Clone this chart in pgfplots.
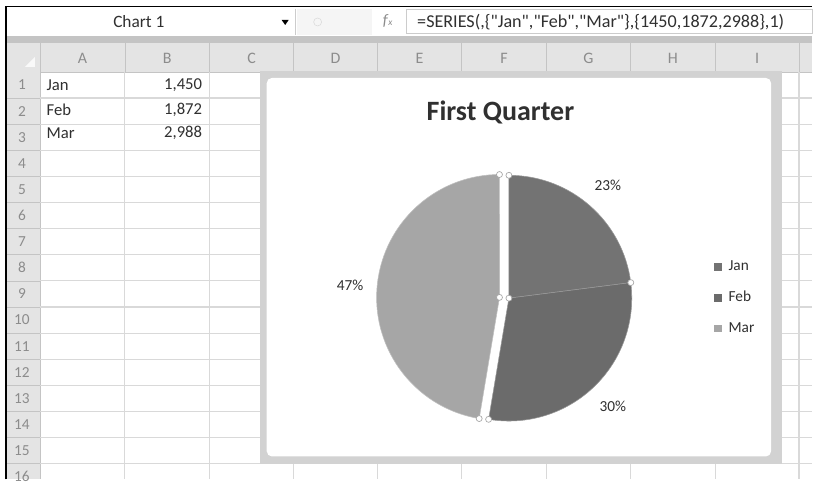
\documentclass[border=0pt]{standalone}
\usepackage{pgfplots}
\pgfplotsset{compat=1.18}
\usepackage{pgfplotstable}
\usepackage{fontspec}
\setmainfont{Carlito}

\definecolor{janc}{HTML}{737373}
\definecolor{febc}{HTML}{6B6B6B}
\definecolor{marc}{HTML}{A6A6A6}
\definecolor{gridc}{HTML}{D9D9D9}
\definecolor{headc}{HTML}{E4E4E4}
\definecolor{headline}{HTML}{C4C4C4}
\definecolor{bandc}{HTML}{D2D2D2}
\definecolor{txtc}{HTML}{303030}
\definecolor{faint}{HTML}{8C8C8C}

% first quarter sales
\pgfplotstableread{
month value
Jan 1450
Feb 1872
Mar 2988
}\sales
\pgfplotstablegetelem{0}{value}\of\sales \let\vJan\pgfplotsretval
\pgfplotstablegetelem{1}{value}\of\sales \let\vFeb\pgfplotsretval
\pgfplotstablegetelem{2}{value}\of\sales \let\vMar\pgfplotsretval

% slice angles, clockwise from 12 o'clock
\pgfmathsetmacro\total{\vJan+\vFeb+\vMar}
\pgfmathsetmacro\aA{90}
\pgfmathsetmacro\aB{\aA-360*(\vJan/\total)}
\pgfmathsetmacro\aC{\aB-360*(\vFeb/\total)}
\pgfmathsetmacro\aD{\aC-360*(\vMar/\total)}
\pgfmathsetmacro\mA{(\aA+\aB)/2}
\pgfmathsetmacro\mB{(\aB+\aC)/2}
\pgfmathsetmacro\mC{(\aC+\aD)/2}
\pgfmathtruncatemacro\pJan{round(100*(\vJan/\total))}
\pgfmathtruncatemacro\pFeb{round(100*(\vFeb/\total))}
\pgfmathtruncatemacro\pMar{round(100*(\vMar/\total))}
\def\R{92.25pt}

\tikzset{handle/.style={circle, draw=gray!70, fill=white, line width=0.5pt, inner sep=0pt, minimum size=4.5pt}}

\begin{document}
\begin{tikzpicture}
\begin{axis}[
    x=0.75pt, y=0.75pt, y dir=reverse,
    xmin=0, xmax=813, ymin=0, ymax=480,
    hide axis, clip=false,
    legend image code/.code={\fill[#1] (0pt,-2.6pt) rectangle (5.2pt,2.6pt);},
    legend style={at={(axis cs:715,259)}, anchor=north west, draw=none, fill=none,
      inner sep=0pt, row sep=11pt, text=txtc,
      font=\fontsize{11.5}{13}\selectfont,
      nodes={inner sep=1pt, text height=8pt, text depth=2pt},
      /tikz/every odd column/.append style={column sep=4pt}},
    legend cell align=left,
  ]
  % page
  \fill[white] (axis cs:0,0) rectangle (axis cs:813,480);

  % formula bar
  \draw[gray!40] (axis cs:296,9) -- (axis cs:296,35);
  \fill[gray!8] (axis cs:297,9) rectangle (axis cs:372,35);
  \draw[gray!30] (axis cs:318,22) circle[radius=3pt];
  \draw[gray!40] (axis cs:407,9) rectangle (axis cs:813,33);
  \node[font=\fontsize{13}{15}\selectfont, txtc] at (axis cs:139,22) {Chart 1};
  \fill[black] (axis cs:282,20) -- (axis cs:289,20) -- (axis cs:285.5,25) -- cycle;
  \node[font=\fontsize{12}{14}\selectfont, faint] at (axis cs:388,21) {\itshape f\kern0.5pt\scriptsize x};
  \node[anchor=west, font=\fontsize{13.6}{15}\selectfont\addfontfeatures{Ligatures=TeXOff}, txtc] at (axis cs:413,22)
    {=SERIES(,\{"Jan","Feb","Mar"\},\{1450,1872,2988\},1)};

  % column header row
  \fill[headline] (axis cs:6,36) rectangle (axis cs:813,43);
  \fill[headc] (axis cs:6,43) rectangle (axis cs:813,72);
  \fill[white!95!gray] (axis cs:25,67) -- (axis cs:35,67) -- (axis cs:35,57) -- cycle;
  \draw[headline] (axis cs:6,72) -- (axis cs:813,72);
  \pgfplotsinvokeforeach{40,125,210,294,378,462,547,631,716,800}{
    \draw[headline] (axis cs:#1,43) -- (axis cs:#1,72);
  }
  \begin{scope}[every node/.style={font=\fontsize{12}{14}\selectfont, faint}]
    \node at (axis cs:82.5,58) {A};
    \node at (axis cs:167.5,58) {B};
    \node at (axis cs:252,58) {C};
    \node at (axis cs:336,58) {D};
    \node at (axis cs:420,58) {E};
    \node at (axis cs:504.5,58) {F};
    \node at (axis cs:589,58) {G};
    \node at (axis cs:673.5,58) {H};
    \node at (axis cs:758,58) {I};
  \end{scope}

  % row header column and grid
  \fill[headc] (axis cs:6,72) rectangle (axis cs:40,480);
  \draw[headline] (axis cs:40,72) -- (axis cs:40,480);
  \pgfplotsinvokeforeach{125,210,294,378,462,547,631,716,800}{
    \draw[gridc, line width=0.9pt] (axis cs:#1,72) -- (axis cs:#1,480);
  }
  \pgfplotsinvokeforeach{1,...,15}{
    \draw[gridc, line width=0.9pt] (axis cs:40,{72+26.15*#1}) -- (axis cs:813,{72+26.15*#1});
    \draw[headline] (axis cs:6,{72+26.15*#1}) -- (axis cs:40,{72+26.15*#1});
  }
  \pgfplotsinvokeforeach{1,...,16}{
    \node[font=\fontsize{11.5}{13}\selectfont, faint] at (axis cs:22,{72+26.15*(#1-0.5)}) {#1};
  }

  % cells
  \begin{scope}[every node/.style={font=\fontsize{12.5}{14}\selectfont, txtc}]
    \node[anchor=west] at (axis cs:42,85) {Jan};
    \node[anchor=west] at (axis cs:42,110) {Feb};
    \node[anchor=west] at (axis cs:42,133) {Mar};
    \node[anchor=east] at (axis cs:207,85) {1,450};
    \node[anchor=east] at (axis cs:207,110) {1,872};
    \node[anchor=east] at (axis cs:207,133) {2,988};
  \end{scope}

  % outer frame of the screenshot
  \draw[black, line width=1.4pt] (axis cs:6,480) -- (axis cs:6,6.5) -- (axis cs:813,6.5);

  % chart object
  \fill[bandc] (axis cs:260,71) rectangle (axis cs:783,465);
  \fill[white, rounded corners=4pt] (axis cs:267,78) rectangle (axis cs:772,457);
  \node[anchor=base, font=\bfseries\fontsize{21}{25}\selectfont, txtc] at (axis cs:501,121) {First Quarter};

  % pie, Mar slice pulled out
  \path (axis cs:509.5,298.5) coordinate (cJF);
  \path (cJF) ++(\mC:7.1pt) coordinate (cM);
  \filldraw[janc, draw=gray!80, line width=0.4pt] (cJF) -- ++(\aA:\R) arc[start angle=\aA, end angle=\aB, radius=\R] -- cycle;
  \filldraw[febc, draw=gray!80, line width=0.4pt] (cJF) -- ++(\aB:\R) arc[start angle=\aB, end angle=\aC, radius=\R] -- cycle;
  \filldraw[marc, draw=gray!50, line width=0.4pt] (cM) -- ++(\aC:\R) arc[start angle=\aC, end angle=\aD, radius=\R] -- cycle;

  % data labels
  \begin{scope}[every node/.style={font=\fontsize{11.5}{13}\selectfont, txtc}]
    \path (cJF) ++(\mA:112.5pt) node {\pJan\%};
    \path (cJF) ++(\mB:112.5pt) node {\pFeb\%};
    \path (cM) ++(\mC:112.5pt) node {\pMar\%};
  \end{scope}

  % selection handles
  \path (cJF) node[handle] {};
  \path (cJF) ++(\aA:\R) node[handle] {};
  \path (cJF) ++(\aB:\R) node[handle] {};
  \path (cJF) ++(\aC:\R) node[handle] {};
  \path (cM) node[handle] {};
  \path (cM) ++(\aC:\R) node[handle] {};
  \path (cM) ++(\aD:\R) node[handle] {};

  \addlegendimage{janc}
  \addlegendentry{Jan}
  \addlegendimage{febc}
  \addlegendentry{Feb}
  \addlegendimage{marc}
  \addlegendentry{Mar}
\end{axis}
\end{tikzpicture}
\end{document}
